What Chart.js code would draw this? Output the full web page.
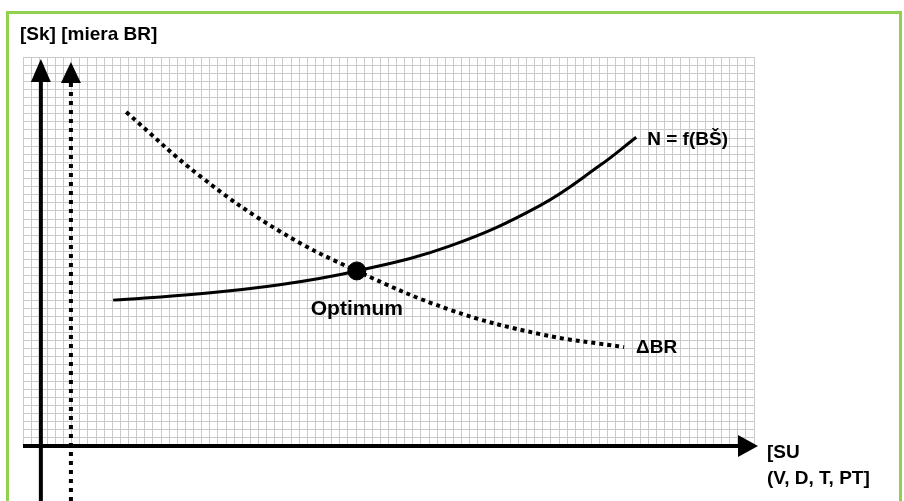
<!DOCTYPE html>
<html>
<head>
<meta charset="utf-8">
<script src="https://cdn.jsdelivr.net/npm/chart.js@4.4.0/dist/chart.umd.min.js"></script>
<style>
  html, body { margin: 0; padding: 0; background: #fff; overflow: hidden; }
  #wrap { position: relative; width: 904px; height: 501px; }
  #frame { position: absolute; left: 6px; top: 11px; width: 890px; height: 600px;
           border: 3px solid #92d050; border-bottom: none; }
  canvas { position: absolute; left: 0; top: 0; }
</style>
</head>
<body>
<div id="wrap">
  <div id="frame"></div>
  <canvas id="chart" width="904" height="501"></canvas>
</div>
<script>
// grid is in "cells" (one square = 1 unit)
var xCells = 90;
var yCells = 48;

// N = f(BS) curve (solid)
var nX = [11.1, 21.8, 31.6, 41.1, 52.6, 63.7, 71.0, 75.5];
var nY = [18.0, 18.8, 19.9, 21.6, 24.7, 29.7, 34.6, 38.1];

// delta BR curve (dotted)
var brX = [12.7, 21.8, 31.6, 41.1, 52.6, 63.7, 74.0];
var brY = [41.2, 33.3, 26.5, 21.6, 16.8, 13.8, 12.2];

// optimum point
var optX = [41.1];
var optY = [21.6];

// where the two vertical axes sit
var solidAxisX = 2.2;
var dottedAxisX = 5.9;

function pts(xs, ys) {
    return xs.map(function (x, i) { return { x: x, y: ys[i] }; });
}

var FONT = '"Liberation Sans", Arial, sans-serif';

function arrow(ctx, tipX, tipY, dir, len, half) {
    ctx.beginPath();
    if (dir === 'up') {
        ctx.moveTo(tipX, tipY);
        ctx.lineTo(tipX - half, tipY + len);
        ctx.lineTo(tipX + half, tipY + len);
    } else {
        ctx.moveTo(tipX, tipY);
        ctx.lineTo(tipX - len, tipY - half);
        ctx.lineTo(tipX - len, tipY + half);
    }
    ctx.closePath();
    ctx.fill();
}

var decor = {
    id: 'decor',
    afterDraw: function (chart) {
        var ctx = chart.ctx;
        var xs = chart.scales.x, ys = chart.scales.y;
        var H = chart.height;
        var ax = xs.getPixelForValue(solidAxisX);
        var dx = xs.getPixelForValue(dottedAxisX);
        var ay = ys.getPixelForValue(0);
        var top = ys.getPixelForValue(yCells);

        ctx.save();
        ctx.fillStyle = '#000';
        ctx.strokeStyle = '#000';
        ctx.lineWidth = 4;

        // solid y axis
        ctx.beginPath();
        ctx.moveTo(ax, H);
        ctx.lineTo(ax, top + 22);
        ctx.stroke();
        arrow(ctx, ax, top + 2, 'up', 23, 10);

        // dotted second axis
        ctx.setLineDash([4, 5]);
        ctx.beginPath();
        ctx.moveTo(dx, H);
        ctx.lineTo(dx, top + 24);
        ctx.stroke();
        ctx.setLineDash([]);
        arrow(ctx, dx, top + 5, 'up', 21, 10);

        // x axis
        ctx.beginPath();
        ctx.moveTo(xs.left, ay);
        ctx.lineTo(xs.right - 14, ay);
        ctx.stroke();
        arrow(ctx, xs.right + 4, ay, 'right', 20, 11);

        // texts
        ctx.textAlign = 'left';
        ctx.textBaseline = 'alphabetic';
        ctx.font = 'bold 19px ' + FONT;
        ctx.fillText('[Sk] [miera BR]', 20, 40);

        var nEnd = { x: xs.getPixelForValue(nX[nX.length - 1]), y: ys.getPixelForValue(nY[nY.length - 1]) };
        ctx.fillText('N = f(BŠ)', nEnd.x + 11, nEnd.y + 8);

        var brEnd = { x: xs.getPixelForValue(brX[brX.length - 1]), y: ys.getPixelForValue(brY[brY.length - 1]) };
        ctx.fillText('ΔBR', brEnd.x + 12, brEnd.y + 6);

        ctx.fillText('[SU', xs.right + 13, ay + 12);
        ctx.fillText('(V, D, T, PT]', xs.right + 13, ay + 38);

        ctx.font = 'bold 21px ' + FONT;
        ctx.textAlign = 'center';
        var o = { x: xs.getPixelForValue(optX[0]), y: ys.getPixelForValue(optY[0]) };
        ctx.fillText('Optimum', o.x, o.y + 44);
        ctx.restore();
    }
};

new Chart('chart', {
    type: 'scatter',
    data: {
        datasets: [{
            label: 'N = f(BŠ)',
            data: pts(nX, nY),
            showLine: true,
            borderColor: '#000',
            borderWidth: 3,
            pointRadius: 0,
            tension: 0.4
        }, {
            label: 'ΔBR',
            data: pts(brX, brY),
            showLine: true,
            borderColor: '#000',
            borderWidth: 4,
            borderDash: [4, 4],
            borderCapStyle: 'butt',
            pointRadius: 0,
            tension: 0.4
        }, {
            label: 'Optimum',
            data: pts(optX, optY),
            backgroundColor: '#000',
            borderColor: '#000',
            pointRadius: 9,
            pointHoverRadius: 9
        }]
    },
    options: {
        responsive: false,
        animation: false,
        devicePixelRatio: 1,
        layout: { padding: { left: 23, right: 150, top: 57, bottom: 55 } },
        plugins: {
            legend: { display: false },
            tooltip: { enabled: false }
        },
        scales: {
            x: {
                type: 'linear',
                min: 0,
                max: xCells,
                border: { display: false },
                grid: { color: '#cacaca', lineWidth: 1, drawTicks: false },
                ticks: { display: false, stepSize: 1, maxTicksLimit: 200, padding: 0 }
            },
            y: {
                type: 'linear',
                min: 0,
                max: yCells,
                border: { display: false },
                grid: { color: '#cacaca', lineWidth: 1, drawTicks: false },
                ticks: { display: false, stepSize: 1, maxTicksLimit: 200, padding: 0 }
            }
        }
    },
    plugins: [decor]
});
</script>
</body>
</html>
